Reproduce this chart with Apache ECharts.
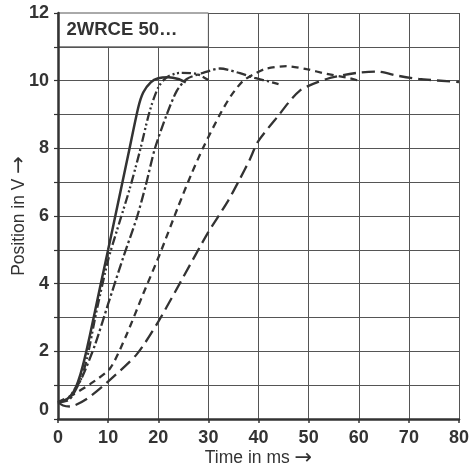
<!DOCTYPE html>
<html>
<head>
<meta charset="utf-8">
<script src="https://cdn.jsdelivr.net/npm/echarts@6/dist/echarts.min.js"></script>
<style>html,body{margin:0;padding:0;background:#fff}#c{width:470px;height:468px}</style>
</head>
<body>
<div id="c"></div>
<script>
const xTicks = [0,10,20,30,40,50,60,70,80];
const yTicks = [0,2,4,6,8,10,12];
const boxLabel = '2WRCE 50…';
const xNameText = 'Time in ms';
const yNameText = 'Position in V';
const arrow = '→';

const solid = [[0,0.5],[1.5,0.55],[3,0.78],[4,1.1],[5,1.6],[6.4,2.5],[8.4,3.9],[10,5.0],[12,6.4],[14,7.8],[16,9.2],[17,9.65],[18.5,9.95],[20,10.07],[22,10.1],[24,10.05],[25.5,9.95]];
const dashDotDot = [[0,0.5],[2,0.6],[3.2,0.85],[4.5,1.15],[5.8,1.8],[7.7,3.2],[10,4.7],[11.4,5.4],[14.3,6.8],[16.3,7.9],[18.3,9.1],[20,9.8],[21.7,10.1],[24.3,10.23],[27.7,10.2],[30,10.02]];
const dashDot = [[0,0.5],[2,0.55],[3,0.72],[5,1.3],[7.4,2.2],[10,3.4],[13,4.77],[15.7,5.94],[17.5,6.9],[19.3,7.98],[21.7,9.0],[23.7,9.7],[25.7,10.05],[28.9,10.23],[32.3,10.36],[36.3,10.22],[39.2,10.08],[42,9.98],[44,9.9]];
const shortDash = [[0,0.5],[3,0.72],[6.4,1.03],[10.4,1.5],[13.7,2.5],[17,3.7],[20.3,4.87],[23.9,6.25],[26.5,7.2],[28.9,8.0],[32.3,9.0],[34.5,9.55],[36.9,9.99],[39.6,10.23],[41.6,10.36],[45.6,10.43],[49.6,10.34],[53.6,10.2],[57.6,10.09],[60,10.0]];
const longDash = [[0,0.5],[1,0.4],[2.4,0.37],[5.8,0.6],[9.7,1.07],[15.7,1.91],[19.9,2.85],[24.9,4.17],[29.9,5.5],[33.9,6.44],[36.3,7.1],[38.2,7.65],[39.9,8.2],[43.6,8.9],[48.2,9.7],[53.6,10.05],[59.6,10.23],[63.5,10.27],[68,10.14],[72,10.05],[80,9.96]];

const lineColor = '#333';
const font = 'Liberation Sans, Arial, sans-serif';
function mk(data, dash, width) {
  return {
    type: 'line', data: data, xAxisIndex: 0, yAxisIndex: 0,
    showSymbol: false, symbol: 'none', smooth: 0.25,
    lineStyle: {color: lineColor, width: width || 2.3, type: dash, cap: 'butt'},
    z: 3
  };
}
const nameRich = {
  t: {color: '#333', fontSize: 17.5, fontFamily: font},
  a: {color: '#333', fontSize: 21, fontFamily: 'DejaVu Sans'}
};
const chart = echarts.init(document.getElementById('c'), null, {renderer: 'canvas'});
const grid = {left: 58, right: 11, top: 13, bottom: 49, containLabel: false, outerBoundsMode: 'none'};
const series = [
  mk(solid, 'solid', 2.5),
  mk(dashDotDot, [9,3,2,2.5,2,3]),
  mk(dashDot, [10,3,2.5,3]),
  mk(shortDash, [7,5]),
  mk(longDash, [13,6])
];
series[0].markArea = {
  silent: true,
  itemStyle: {color: '#fff', borderColor: '#555', borderWidth: 1},
  label: {show: true, position: 'insideLeft', distance: 9, color: '#333', fontWeight: 'bold', fontSize: 18.5, fontFamily: font},
  data: [[{name: boxLabel, coord: [0, 11]}, {coord: [30, 12]}]]
};
chart.setOption({
  animation: false,
  backgroundColor: '#fff',
  grid: grid,
  xAxis: [{
    type: 'value', min: 0, max: 80, interval: 10,
    name: '{t|' + xNameText + ' }{a|' + arrow + '}', nameLocation: 'middle', nameGap: 29,
    nameMoveOverlap: false,
    nameTextStyle: {rich: nameRich},
    axisLine: {show: false},
    axisTick: {show: true, length: 4, lineStyle: {color: '#333', width: 1.5}},
    axisLabel: {color: '#333', fontWeight: 'bold', fontSize: 18, fontFamily: font, margin: 10,
      formatter: v => xTicks.indexOf(v) >= 0 ? String(v) : ''},
    splitLine: {show: true, lineStyle: {color: '#555', width: 1}}
  }, {
    type: 'value', min: 0, max: 80, interval: 10, position: 'bottom', z: 10,
    axisLine: {show: true, onZero: false, lineStyle: {color: '#333', width: 2.5}},
    axisTick: {show: false}, axisLabel: {show: false}, splitLine: {show: false}
  }],
  yAxis: [{
    type: 'value', min: 0, max: 12, interval: 1,
    name: '{t|' + yNameText + ' }{a|' + arrow + '}', nameLocation: 'middle', nameGap: 28,
    nameMoveOverlap: false,
    nameTextStyle: {rich: nameRich},
    axisLine: {show: false},
    axisTick: {show: true, length: 4, lineStyle: {color: '#333', width: 1.2}},
    axisLabel: {color: '#333', fontWeight: 'bold', fontSize: 18, fontFamily: font, margin: 9,
      verticalAlignMinLabel: 'bottom',
      formatter: v => yTicks.indexOf(v) >= 0 ? String(v) : ''},
    splitLine: {show: true, lineStyle: {color: '#555', width: 1}}
  }, {
    type: 'value', min: 0, max: 12, interval: 1, position: 'left', z: 10,
    axisLine: {show: true, onZero: false, lineStyle: {color: '#333', width: 2.5}},
    axisTick: {show: false}, axisLabel: {show: false}, splitLine: {show: false}
  }],
  series: series
});
</script>
</body>
</html>
